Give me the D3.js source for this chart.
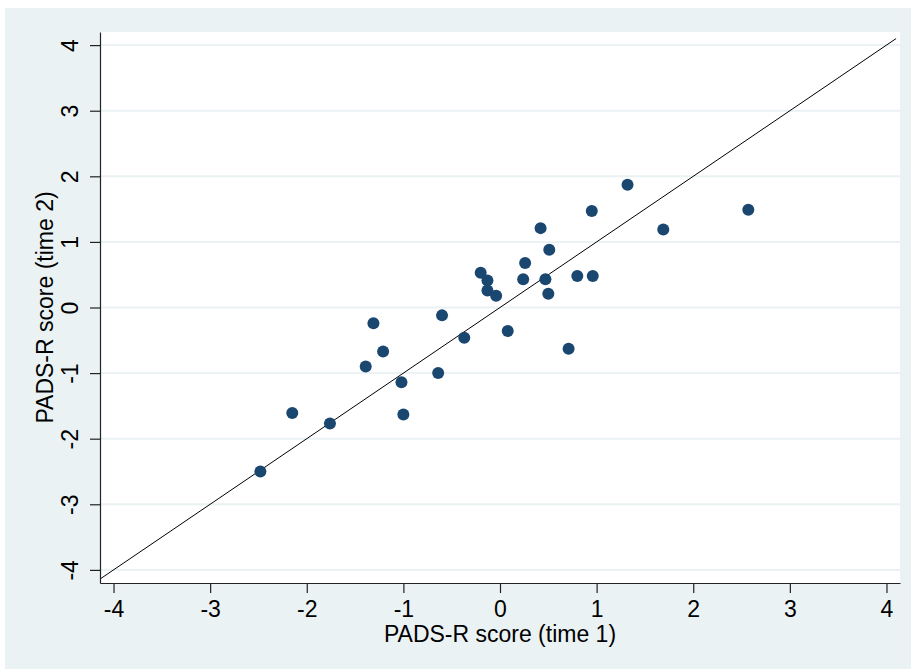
<!DOCTYPE html>
<html>
<head>
<meta charset="utf-8">
<script src="https://cdn.jsdelivr.net/npm/d3@7"></script>
<style>
  body { margin: 0; background: #fff; }
  text { font-family: "Liberation Sans", Arial, sans-serif; fill: #000; }
</style>
</head>
<body>
<svg id="chart"></svg>
<script>
// PADS-R scores at two time points, with the y = x reference line

const time1 = [-2.48, -2.15, -1.76, -1.39, -1.31, -1.21, -1.02, -1.00, -0.64, -0.60,
               -0.37, -0.20, -0.13, -0.13, -0.04, 0.08, 0.24, 0.26, 0.42, 0.47,
               0.50, 0.51, 0.71, 0.80, 0.96, 0.95, 1.32, 1.69, 2.57];
const time2 = [-2.50, -1.61, -1.77, -0.90, -0.24, -0.67, -1.14, -1.63, -1.00, -0.12,
               -0.46, 0.53, 0.41, 0.26, 0.18, -0.36, 0.43, 0.68, 1.21, 0.43,
               0.21, 0.88, -0.63, 0.48, 0.48, 1.47, 1.87, 1.19, 1.49];
const xTicks = [-4, -3, -2, -1, 0, 1, 2, 3, 4];
const yTicks = [-4, -3, -2, -1, 0, 1, 2, 3, 4];
const lineRange = [-4.14, 4.1];

const width = 911, height = 669;
const plot = { left: 100, right: 900, top: 32, bottom: 583 };

const svg = d3.select("#chart")
    .attr("width", width)
    .attr("height", height);

// outer graph region and white plot region
svg.append("rect")
    .attr("x", 5).attr("y", 8)
    .attr("width", width - 5).attr("height", height - 8)
    .attr("fill", "#eaf2f3");

svg.append("rect")
    .attr("x", plot.left).attr("y", plot.top)
    .attr("width", plot.right - plot.left).attr("height", plot.bottom - plot.top)
    .attr("fill", "#fff");

const x = d3.scaleLinear().domain([-4.14, 4.14]).range([plot.left, plot.right]);
const y = d3.scaleLinear().domain([-4.2, 4.2]).range([plot.bottom, plot.top]);

// horizontal grid
svg.append("g")
    .selectAll("line")
    .data(yTicks)
    .enter().append("line")
    .attr("x1", plot.left).attr("x2", plot.right)
    .attr("y1", d => y(d)).attr("y2", d => y(d))
    .attr("stroke", "#eaf2f3")
    .attr("stroke-width", 2);

// y = x line
svg.append("line")
    .attr("x1", x(lineRange[0])).attr("y1", y(lineRange[0]))
    .attr("x2", x(lineRange[1])).attr("y2", y(lineRange[1]))
    .attr("stroke", "#000")
    .attr("stroke-width", 1);

// points
const points = time1.map((d, i) => ({ t1: d, t2: time2[i] }));
svg.append("g")
    .selectAll("circle")
    .data(points)
    .enter().append("circle")
    .attr("cx", d => x(d.t1))
    .attr("cy", d => y(d.t2))
    .attr("r", 6)
    .attr("fill", "#1a476f");

// plain hyphen for negatives, as in the original
const fmt = d => String(d);

// x axis
const xAxis = svg.append("g")
    .attr("transform", `translate(0, ${plot.bottom})`)
    .call(d3.axisBottom(x).tickValues(xTicks).tickSize(10).tickPadding(8).tickSizeOuter(0).tickFormat(fmt));

// y axis with vertical labels
const yAxis = svg.append("g")
    .attr("transform", `translate(${plot.left}, 0)`)
    .call(d3.axisLeft(y).tickValues(yTicks).tickSize(10).tickSizeOuter(0).tickFormat(fmt));

yAxis.selectAll(".tick text")
    .attr("x", null).attr("dy", null)
    .attr("text-anchor", "middle")
    .attr("transform", "translate(-22, 0) rotate(-90)");

[xAxis, yAxis].forEach(a => {
    a.select(".domain").attr("stroke", "#222").attr("stroke-width", 1.2);
    a.selectAll(".tick line").attr("stroke", "#222").attr("stroke-width", 1.2);
    a.selectAll(".tick text")
        .style("font-size", "23px")
        .style("font-family", "'Liberation Sans', Arial, sans-serif")
        .attr("fill", "#000");
});

// axis titles
svg.append("text")
    .attr("x", (plot.left + plot.right) / 2)
    .attr("y", 642)
    .attr("text-anchor", "middle")
    .style("font-size", "23px")
    .text("PADS-R score (time 1)");

svg.append("text")
    .attr("transform", `translate(53, ${(plot.top + plot.bottom) / 2}) rotate(-90)`)
    .attr("text-anchor", "middle")
    .style("font-size", "23px")
    .text("PADS-R score (time 2)");
</script>
</body>
</html>
